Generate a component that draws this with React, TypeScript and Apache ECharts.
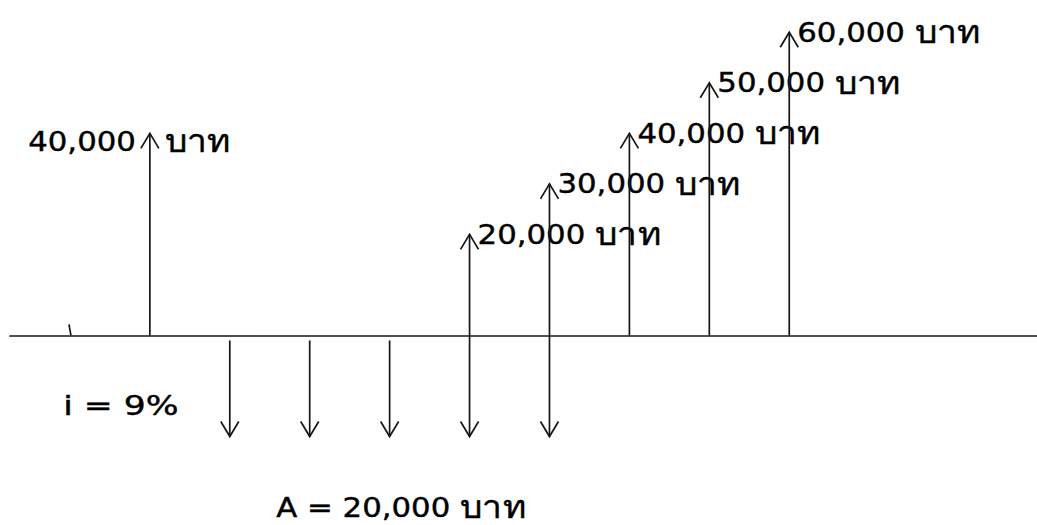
import React, { useEffect, useRef } from "react";
import * as echarts from "echarts";

// Cash-flow diagram data
const originPeriods = [0];
const receiptPeriods = [1, 5, 6, 7, 8, 9];
const receiptValues = [40000, 20000, 30000, 40000, 50000, 60000];
const paymentPeriods = [2, 3, 4, 5, 6];
const paymentValues = [20000, 20000, 20000, 20000, 20000];
const currencyUnit = "บาท";
const interestRate = 9; // %
const annuityAmount = 20000;

const FONT = "'DejaVu Sans', 'Noto Sans', sans-serif";
const INK = "#161616";
const FS = 27;
const SX = 1.14;
const fmt = (v: number) => v.toLocaleString("en-US");
const unit = () => `{u|${currencyUnit}}`;

const baseText = {
  fill: "#000",
  fontSize: FS,
  fontFamily: FONT,
  stroke: "#000",
  lineWidth: 0.4,
  rich: {
    u: {
      fontSize: 31,
      fontFamily: FONT,
      fill: "#000",
      stroke: "#000",
      lineWidth: 0.4,
    },
  },
};

export default function App() {
  const ref = useRef<HTMLDivElement>(null);
  useEffect(() => {
    const chart = echarts.init(ref.current!, null, { renderer: "svg" });
    const data = [
      ...originPeriods.map((p) => [p, 0, 0]),
      ...receiptPeriods.map((p, i) => [p, receiptValues[i], 1]),
      ...paymentPeriods.map((p, i) => [p, -paymentValues[i], 2]),
    ];
    const firstReceipt = Math.min(...receiptPeriods);
    const lineStyle = { stroke: INK, lineWidth: 1.7, fill: "none" };
    const textStyle = (text: string, align: string) => ({
      ...baseText,
      text,
      align,
      verticalAlign: "middle",
    });

    const renderItem = (params: any, api: any) => {
      const p = api.value(0);
      const v = api.value(1);
      const kind = api.value(2);
      const [bx, by] = api.coord([p, 0]);
      if (kind === 0) {
        return {
          type: "line",
          shape: { x1: bx - 1, y1: by - 11, x2: bx + 1, y2: by },
          style: lineStyle,
        };
      }
      const [tx, ty] = api.coord([p, v]);
      const up = kind === 1;
      const hasReceipt = receiptPeriods.includes(p);
      const startY = up ? by : by + (hasReceipt ? 0 : 5);
      const children: any[] = [
        { type: "line", shape: { x1: bx, y1: startY, x2: tx, y2: ty }, style: lineStyle },
        {
          type: "polyline",
          shape: {
            points: up
              ? [[tx - 9, ty + 15], [tx, ty], [tx + 9, ty + 15]]
              : [[tx - 9, ty - 15], [tx, ty], [tx + 9, ty - 15]],
          },
          style: lineStyle,
        },
      ];
      if (up) {
        if (p === firstReceipt) {
          children.push({ type: "text", x: tx - 14, y: ty + 8, scaleX: SX, style: textStyle(fmt(v), "right") });
          children.push({ type: "text", x: tx + 15, y: ty + 8, scaleX: SX, style: textStyle(unit(), "left") });
        } else {
          children.push({
            type: "text",
            x: tx + 8,
            y: ty,
            scaleX: SX,
            style: textStyle(`${fmt(v)} ${unit()}`, "left"),
          });
        }
      }
      return { type: "group", children };
    };

    chart.setOption({
      animation: false,
      grid: { left: 10, top: 7, width: 1027, height: 480 },
      xAxis: {
        type: "value",
        min: -0.75,
        max: 12.1,
        axisLine: { show: true, onZero: true, lineStyle: { color: INK, width: 1.7 } },
        axisTick: { show: false },
        axisLabel: { show: false },
        splitLine: { show: false },
      },
      yAxis: {
        type: "value",
        min: -30000,
        max: 65000,
        axisLine: { show: false },
        axisTick: { show: false },
        axisLabel: { show: false },
        splitLine: { show: false },
      },
      series: [
        {
          type: "custom",
          renderItem,
          data,
          encode: { x: 0, y: 1 },
          clip: false,
          silent: true,
        },
      ],
      graphic: [
        {
          type: "text",
          left: 63,
          top: 392,
          scaleX: 1.28,
          style: { ...baseText, text: `i = ${interestRate}%` },
        },
        {
          type: "text",
          left: 276,
          top: 492,
          scaleX: SX,
          style: { ...baseText, text: `A = ${fmt(annuityAmount)} ${unit()}` },
        },
      ],
    });
    return () => chart.dispose();
  }, []);
  return (
    <div
      ref={ref}
      style={{ position: "fixed", left: 0, top: 0, width: 1037, height: 525, background: "#fff" }}
    />
  );
}
